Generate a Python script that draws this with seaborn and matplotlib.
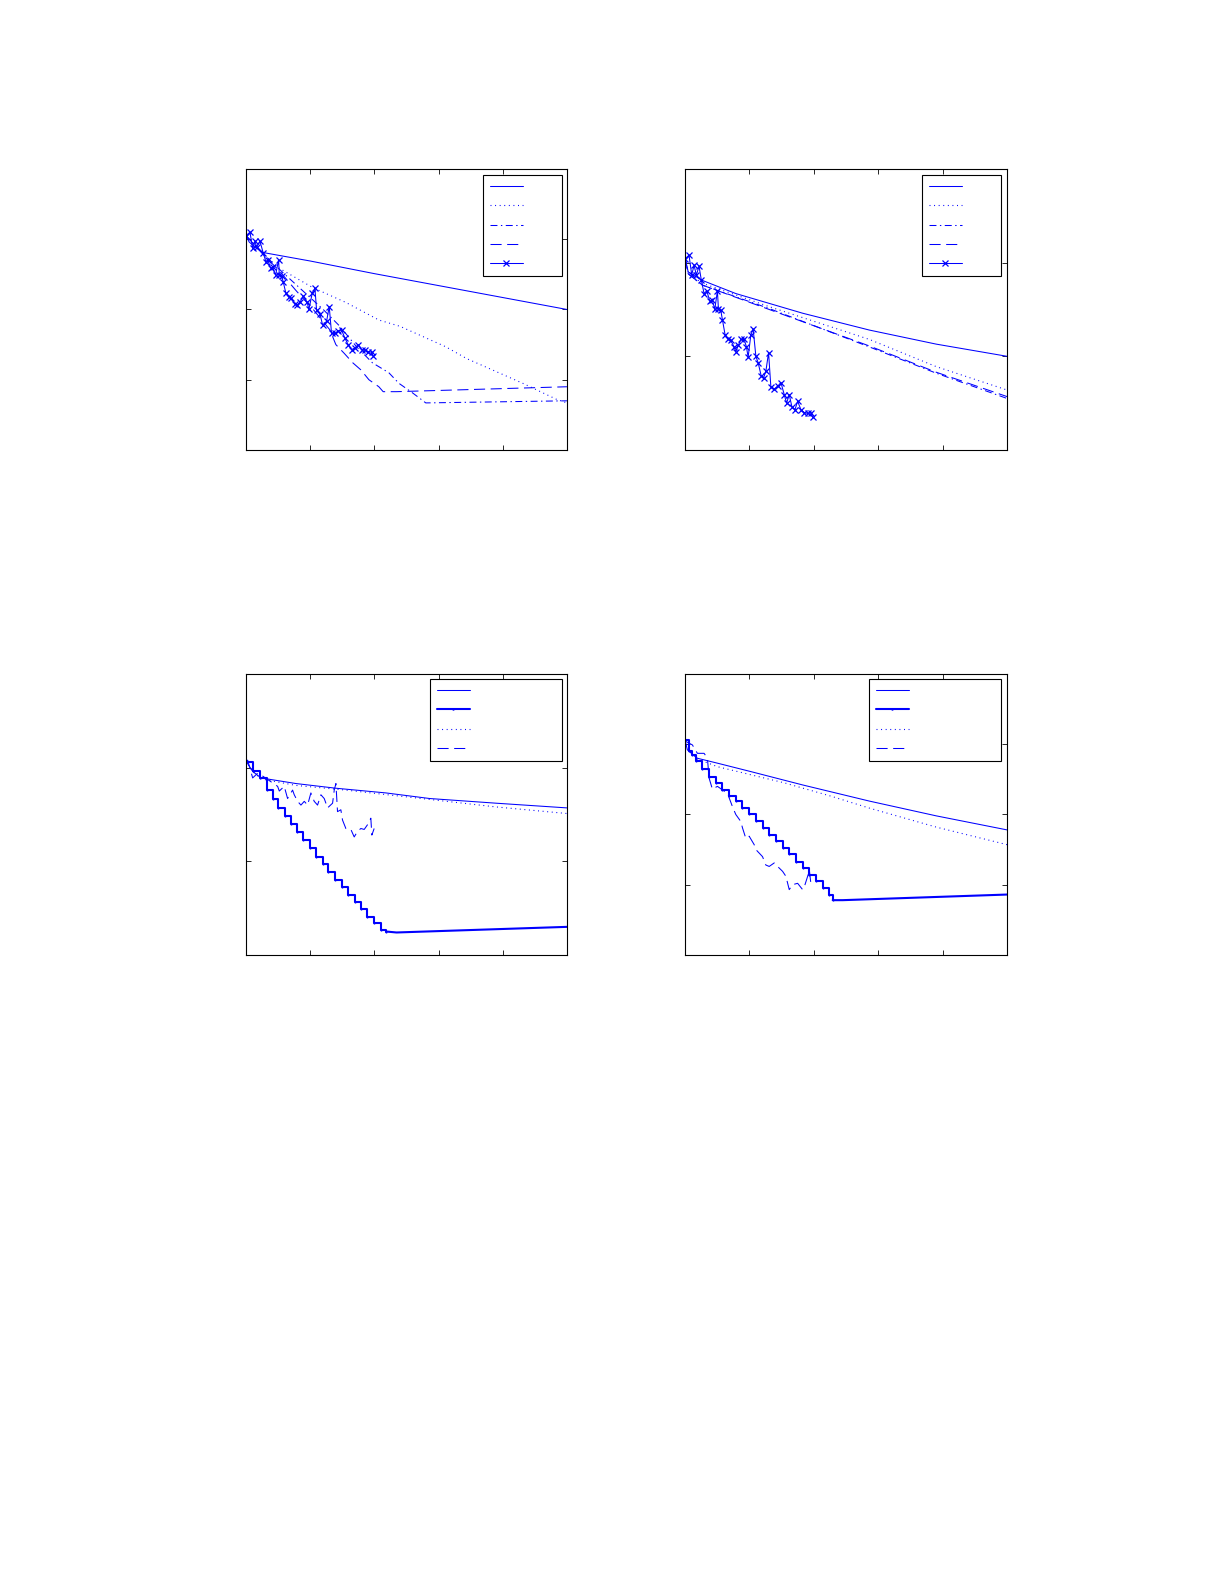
import matplotlib
matplotlib.use("Agg")
import matplotlib.pyplot as plt
from matplotlib.lines import Line2D
import seaborn as sns

# ---- data (x: iterations 0..500, y: axis units) ----
# top-left panel
tl_solid_x = [0, 5, 15, 27, 100, 200, 300, 400, 500]
tl_solid_y = [3.05, 2.96, 2.88, 2.81, 2.69, 2.51, 2.34, 2.17, 2.00]
tl_dot_x = [0, 27, 51.3, 104.3, 155.6, 207, 240, 311, 344, 431, 484, 500]
tl_dot_y = [3.05, 2.79, 2.59, 2.31, 2.10, 1.85, 1.76, 1.47, 1.30, 0.95, 0.72, 0.67]
tl_dashdot_x = [0, 27, 58.1, 89.2, 120.3, 146.3, 172.2, 197.1, 222.5, 238.1, 259.9, 280.1, 500]
tl_dashdot_y = [3.05, 2.79, 2.52, 2.26, 2.00, 1.76, 1.47, 1.24, 1.10, 0.95, 0.81, 0.67, 0.70]
tl_dash_x = [0, 27, 52.9, 78.8, 104.8, 130.7, 140, 152.6, 166.5, 179, 191.5, 207, 213.7, 234.5, 500]
tl_dash_y = [3.05, 2.78, 2.54, 2.26, 2.00, 1.71, 1.50, 1.38, 1.24, 1.14, 1.00, 0.90, 0.83, 0.83, 0.90]
tl_cross_x = [0, 6.2, 10.4, 14, 16.6, 21.8, 27, 31.1, 33.7, 38.4, 41.5, 46.2, 50.8, 51.9, 55.5,
              58.1, 62.2, 66.4, 70, 76.2, 78.8, 84, 89.2, 95.4, 98, 103.2, 107.4, 110, 115.2,
              119.3, 125.5, 129.7, 133.3, 138.5, 143.7, 148.9, 154.1, 159.2, 164.4, 169.6,
              174.8, 180, 185.2, 190.4, 195.6, 198.1]
tl_cross_y = [3.05, 3.10, 2.87, 2.97, 2.89, 2.97, 2.80, 2.68, 2.71, 2.59, 2.60, 2.49, 2.71, 2.49, 2.48,
              2.39, 2.23, 2.18, 2.16, 2.08, 2.06, 2.10, 2.19, 2.10, 2.00, 2.23, 2.30, 1.99, 1.94,
              1.78, 1.83, 2.04, 1.66, 1.66, 1.69, 1.71, 1.59, 1.50, 1.43, 1.45,
              1.50, 1.43, 1.42, 1.40, 1.39, 1.34]

# top-right panel
tr_solid_x = [0, 5, 27, 78.8, 182.6, 286.3, 390, 500]
tr_solid_y = [2.05, 1.90, 1.81, 1.67, 1.46, 1.28, 1.13, 1.00]
tr_dot_x = [0, 5, 27, 130.7, 286.3, 390, 500]
tr_dot_y = [2.05, 1.89, 1.78, 1.53, 1.18, 0.89, 0.64]
tr_dashdot_x = [0, 5, 27, 130.7, 286.3, 390, 500]
tr_dashdot_y = [2.05, 1.88, 1.76, 1.51, 1.10, 0.82, 0.55]
tr_dash_x = [0, 5, 27, 130.7, 286.3, 390, 500]
tr_dash_y = [2.05, 1.88, 1.76, 1.50, 1.11, 0.83, 0.57]
tr_cross_x = [0, 6.2, 10.4, 14, 17.6, 21.8, 25.4, 29.6, 33.7, 38.4, 42.5, 46.2, 50.3, 51.9, 55.5,
              58.1, 62.2, 67.4, 71.1, 76.2, 78.8, 83, 86.6, 91.8, 95.4, 98, 102.2, 105.8, 110,
              113.6, 118.3, 121.9, 125.5, 129.7, 133.3, 138.5, 143.7, 148.9, 154.1, 157.7,
              161.8, 166, 170.7, 174.8, 180, 185.2, 190.4, 195.6, 198.1]
tr_cross_y = [2.04, 2.08, 1.87, 1.97, 1.87, 1.96, 1.81, 1.67, 1.70, 1.59, 1.60, 1.50, 1.70, 1.50, 1.49,
              1.39, 1.23, 1.18, 1.17, 1.10, 1.05, 1.12, 1.18, 1.18, 1.10, 0.99, 1.23, 1.29, 1.00,
              0.93, 0.79, 0.77, 0.84, 1.04, 0.67, 0.65, 0.68, 0.72, 0.59, 0.50,
              0.59, 0.46, 0.43, 0.52, 0.43, 0.40, 0.39, 0.40, 0.35]

# bottom-left panel
bl_solid_x = [0, 10.4, 23.3, 77.8, 140.1, 217.8, 286.3, 390, 500]
bl_solid_y = [2.07, 1.96, 1.89, 1.83, 1.78, 1.73, 1.67, 1.62, 1.57]
bl_stair_x = [0, 11.4, 21.8, 32.2, 41.5, 50.3, 60.7, 70, 78.8, 89.2, 99.6, 108.9, 119.3,
              128.1, 138.5, 148.9, 159.2, 169.6, 179, 189.3, 199.2, 209.6, 218.9]
bl_stair_y = [2.06, 1.96, 1.89, 1.76, 1.67, 1.57, 1.48, 1.40, 1.31, 1.23, 1.14, 1.05, 0.97,
              0.89, 0.80, 0.73, 0.64, 0.57, 0.49, 0.41, 0.34, 0.27, 0.25]
bl_tail_x = [218.9, 234.5, 500]
bl_tail_y = [0.25, 0.24, 0.30]
bl_dot_x = [0, 10.4, 23.3, 77.8, 155.6, 286.3, 390, 500]
bl_dot_y = [2.07, 1.96, 1.88, 1.81, 1.76, 1.66, 1.58, 1.51]
bl_dash_x = [0, 2.6, 10.4, 18.2, 25.9, 49.3, 51.9, 59.6, 64.8, 72.6, 75.2, 80.4, 85.6, 90.8, 96,
             101.1, 106.3, 111.5, 116.7, 121.9, 127.1, 134.9, 137.5, 140.1, 142.6, 147.8,
             150.4, 155.6, 163.4, 168.6, 173.8, 179, 184.2, 189.3, 194.5, 196.1, 199.7]
bl_dash_y = [2.06, 2.08, 1.89, 1.94, 1.91, 1.80, 1.75, 1.80, 1.67, 1.76, 1.71, 1.64, 1.60, 1.64, 1.60,
             1.73, 1.64, 1.60, 1.71, 1.67, 1.57, 1.62, 1.76, 1.83, 1.53, 1.55,
             1.44, 1.35, 1.34, 1.26, 1.32, 1.35, 1.34, 1.39, 1.46, 1.28, 1.35]

# bottom-right panel
br_solid_x = [0, 3.6, 19.2, 50.3, 102.2, 182.6, 286.3, 390, 500]
br_solid_y = [3.06, 2.92, 2.80, 2.73, 2.61, 2.42, 2.19, 1.98, 1.78]
br_stair_x = [0, 6.2, 11.4, 16.6, 27, 37.3, 47.7, 58.1, 68.5, 78.8, 89.2, 99.6, 110, 120.3,
              130.7, 141.1, 151.5, 161.8, 172.2, 182.6, 193, 203.3, 213.7, 224.1, 229.3]
br_stair_y = [3.06, 2.91, 2.85, 2.76, 2.65, 2.54, 2.45, 2.35, 2.26, 2.19, 2.09, 2.00, 1.90, 1.81,
              1.71, 1.62, 1.52, 1.43, 1.33, 1.24, 1.14, 1.05, 0.95, 0.86, 0.78]
br_tail_x = [229.3, 244.8, 500]
br_tail_y = [0.78, 0.78, 0.86]
br_dot_x = [0, 6.2, 19.2, 50.3, 154.1, 226.7, 286.3, 390, 500]
br_dot_y = [3.06, 2.91, 2.79, 2.68, 2.45, 2.26, 2.09, 1.82, 1.57]
br_dash_x = [0, 1, 11.4, 19.2, 29.6, 34.8, 37.3, 42.5, 50.3, 65.9, 73.7, 78.8, 86.6, 89.2, 94.4,
             99.6, 107.4, 110, 120.3, 125.5, 130.7, 138.5, 143.7, 151.5, 156.6, 161.8, 167,
             174.8, 182.6, 185.2, 190.4, 193, 195.6, 198.1]
br_dash_y = [3.06, 3.04, 2.99, 2.87, 2.87, 2.80, 2.52, 2.36, 2.40, 2.30, 2.11, 2.00, 1.90, 1.81, 1.66,
             1.69, 1.57, 1.50, 1.40, 1.28, 1.26, 1.31, 1.26, 1.19, 1.12, 0.93, 1.00,
             1.02, 0.93, 0.97, 1.12, 1.21, 1.00, 0.97]

BLUE = "#0000ff"
DOT = (0, (0.7, 2.6))
DASH = (0, (8, 4))
DASHDOT = (0, (5, 2.5, 1, 2.5))

# line styles per series kind
STY = {
    "solid":   dict(lw=0.75, linestyle="-"),
    "dot":     dict(lw=0.8, linestyle=DOT),
    "dashdot": dict(lw=0.75, linestyle=DASHDOT),
    "dash":    dict(lw=0.75, linestyle=DASH),
    "cross":   dict(lw=0.75, linestyle="-", marker="x", ms=4, mew=0.9),
    "stair":   dict(lw=1.5, linestyle="-", marker=".", ms=1.5),
}

sns.set_style("ticks")
plt.rcParams.update({"lines.scale_dashes": False, "axes.edgecolor": "black",
                     "axes.linewidth": 0.8})


def line(ax, x, y, kind, **kw):
    sns.lineplot(x=x, y=y, ax=ax, color=BLUE, estimator=None, sort=False,
                 markeredgecolor=BLUE, legend=False, **STY[kind], **kw)


def frame(ax, ymax, kinds, legend_box):
    ax.set_xlim(0, 500)
    ax.set_ylim(0, ymax)
    ax.set_xticks(range(0, 501, 100))
    ax.set_yticks(range(0, ymax + 1))
    ax.tick_params(direction="in", length=3.5, width=0.7, top=True, right=True,
                   labelbottom=False, labelleft=False)
    for s in ax.spines.values():
        s.set_visible(True)
        s.set_linewidth(0.8)
    handles = [Line2D([], [], color=BLUE, markeredgecolor=BLUE, **STY[k]) for k in kinds]
    leg = ax.legend(handles, [" "] * len(handles), loc="upper left",
                    bbox_to_anchor=legend_box, mode="expand", borderaxespad=0,
                    fontsize=8, labelspacing=0.85, borderpad=0.6, handlelength=3,
                    handletextpad=0.8, fancybox=False, framealpha=1, numpoints=1)
    leg.get_frame().set_edgecolor("black")
    leg.get_frame().set_linewidth(0.8)


fig = plt.figure(figsize=(12.25, 15.85), dpi=100)
ax_tl = fig.add_axes([0.2008, 0.7161, 0.2620, 0.1773])
ax_tr = fig.add_axes([0.5592, 0.7161, 0.2629, 0.1773])
ax_bl = fig.add_axes([0.2008, 0.3975, 0.2620, 0.1773])
ax_br = fig.add_axes([0.5592, 0.3975, 0.2629, 0.1773])

# top row: five methods
top_kinds = ["solid", "dot", "dashdot", "dash", "cross"]
top = [(ax_tl, 4, (0.738, 0.623, 0.246, 0.356),
        [(tl_solid_x, tl_solid_y), (tl_dot_x, tl_dot_y), (tl_dashdot_x, tl_dashdot_y),
         (tl_dash_x, tl_dash_y), (tl_cross_x, tl_cross_y)]),
       (ax_tr, 3, (0.736, 0.623, 0.245, 0.356),
        [(tr_solid_x, tr_solid_y), (tr_dot_x, tr_dot_y), (tr_dashdot_x, tr_dashdot_y),
         (tr_dash_x, tr_dash_y), (tr_cross_x, tr_cross_y)])]
for ax, ymax, box, series in top:
    for (x, y), kind in zip(series, top_kinds):
        line(ax, x, y, kind)
    frame(ax, ymax, top_kinds, box)

# bottom row: four methods (staircase drawn as steps, then its flat tail)
bottom = [(ax_bl, 3, (0.573, 0.694, 0.411, 0.288),
           [(bl_solid_x, bl_solid_y), (bl_stair_x, bl_stair_y), (bl_tail_x, bl_tail_y),
            (bl_dot_x, bl_dot_y), (bl_dash_x, bl_dash_y)]),
          (ax_br, 4, (0.571, 0.694, 0.410, 0.288),
           [(br_solid_x, br_solid_y), (br_stair_x, br_stair_y), (br_tail_x, br_tail_y),
            (br_dot_x, br_dot_y), (br_dash_x, br_dash_y)])]
for ax, ymax, box, (s, st, t, d, da) in bottom:
    line(ax, *s, "solid")
    line(ax, *st, "stair", drawstyle="steps-post")
    sns.lineplot(x=t[0], y=t[1], ax=ax, color=BLUE, lw=1.5, estimator=None,
                 sort=False, legend=False)
    line(ax, *d, "dot")
    line(ax, *da, "dash")
    frame(ax, ymax, ["solid", "stair", "dot", "dash"], box)

fig.savefig("out.png", dpi=100, facecolor="white")
